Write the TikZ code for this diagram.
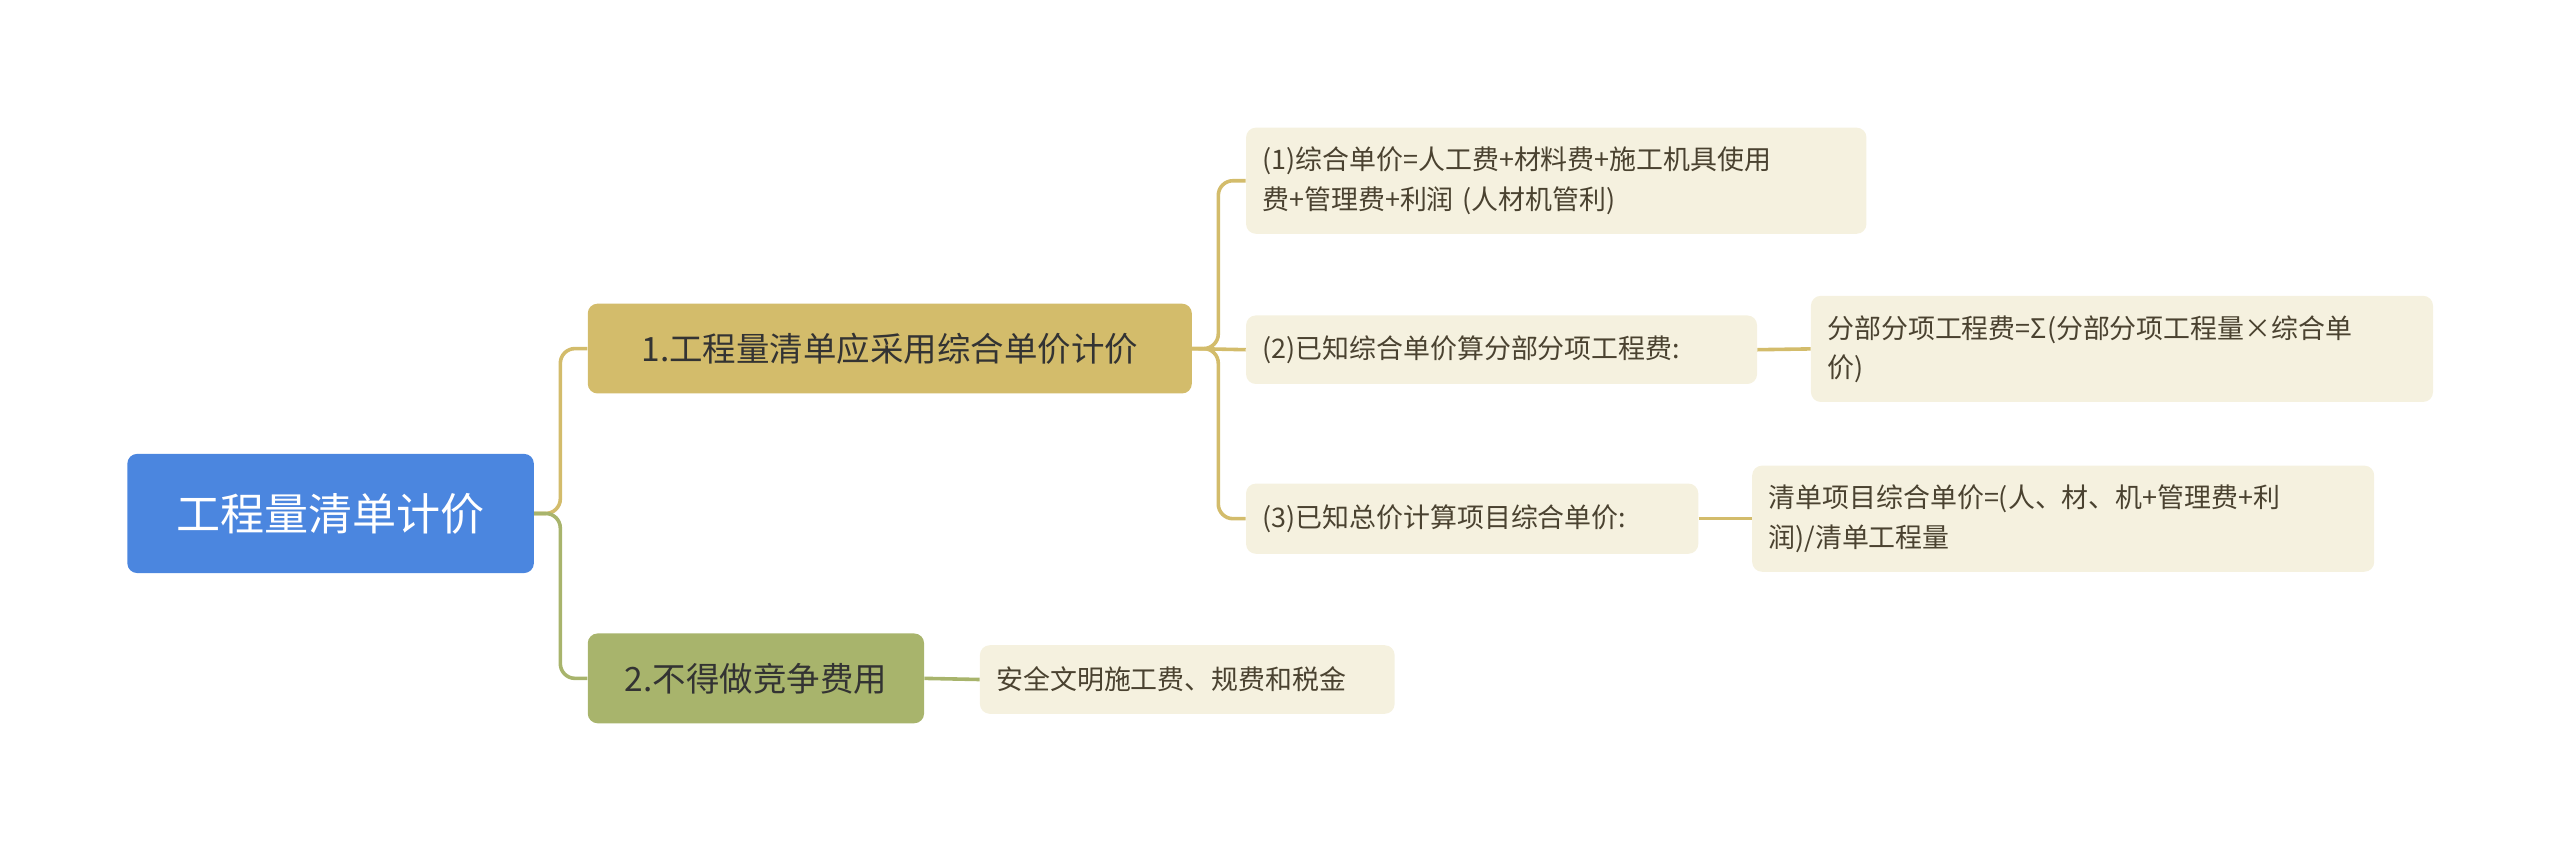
\documentclass[tikz,border=0pt]{standalone}
\usepackage{fontspec}
\setmainfont{Noto Sans CJK SC}
\begin{document}
\begin{tikzpicture}[x=1pt,y=-1pt,
 box/.style={rounded corners=6pt,inner sep=0pt,align=left},
 leaf/.style={box,fill=leafc,text=leaftx,font=\fontsize{16.5}{24}\selectfont,anchor=north west},
 con/.style={line width=2.2pt,rounded corners=9pt}]
\definecolor{rootc}{HTML}{4B86DF}
\definecolor{goldc}{HTML}{D3BC6B}
\definecolor{olivec}{HTML}{A8B46C}
\definecolor{leafc}{HTML}{F5F1DF}
\definecolor{leaftx}{HTML}{4A4230}
\useasboundingbox (0,0) rectangle (1568,521);
\node[box,fill=rootc,text=white,font=\fontsize{27}{32}\selectfont,minimum width=249pt,minimum height=73pt,align=center] (root) at (202.5,314.5) {工程量清单计价};
\node[box,fill=goldc,text=black!80,font=\fontsize{20.5}{26}\selectfont,minimum width=370pt,minimum height=55pt,align=center] (a) at (545,213.5) {1.工程量清单应采用综合单价计价};
\node[box,fill=olivec,text=black!80,font=\fontsize{20.5}{26}\selectfont,minimum width=206pt,minimum height=55pt,align=center] (b) at (463,415.5) {2.不得做竞争费用};
\node[leaf,minimum width=380pt,minimum height=65pt,text width=360pt,inner xsep=10pt] (l1) at (763,78) {(1)综合单价=人工费+材料费+施工机具使用\\费+管理费+利润 (人材机管利)};
\node[leaf,minimum width=313pt,minimum height=42pt,text width=293pt,inner xsep=10pt] (l2) at (763,193) {(2)已知综合单价算分部分项工程费:};
\node[leaf,minimum width=381pt,minimum height=65pt,text width=361pt,inner xsep=10pt] (l2b) at (1109,181) {分部分项工程费=Σ(分部分项工程量×综合单\\价)};
\node[leaf,minimum width=277pt,minimum height=43pt,text width=257pt,inner xsep=10pt] (l3) at (763,296) {(3)已知总价计算项目综合单价:};
\node[leaf,minimum width=381pt,minimum height=65pt,text width=361pt,inner xsep=10pt] (l3b) at (1073,285) {清单项目综合单价=(人、材、机+管理费+利\\润)/清单工程量};
\node[leaf,minimum width=254pt,minimum height=42pt,text width=234pt,inner xsep=10pt] (l4) at (600,395) {安全文明施工费、规费和税金};
\draw[con,goldc] (root.east) -- ++(16,0) |- (a.west);
\draw[con,olivec] (root.east) -- ++(16,0) |- (b.west);
\draw[con,goldc] (a.east) -- ++(16,0) |- (l1.west);
\draw[con,goldc] (a.east) -- (l2.west);
\draw[con,goldc] (a.east) -- ++(16,0) |- (l3.west);
\draw[con,goldc] (l2.east) -- (l2b.west);
\draw[con,goldc] (l3.east) -- (l3b.west);
\draw[con,olivec] (b.east) -- (l4.west);
\end{tikzpicture}
\end{document}
